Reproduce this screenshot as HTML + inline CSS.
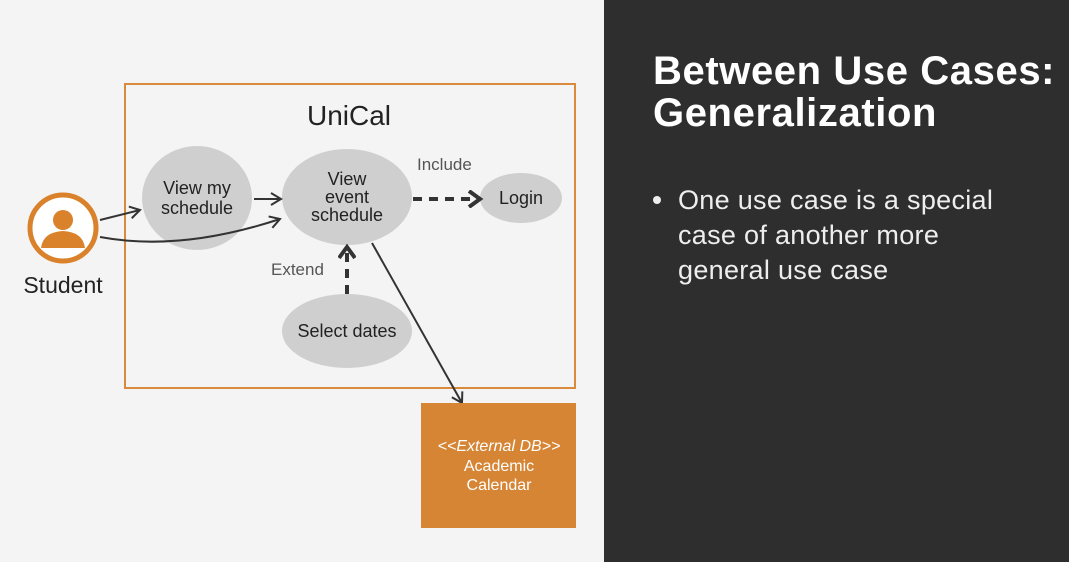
<!DOCTYPE html>
<html><head><style>
body{margin:0;width:1069px;height:562px;overflow:hidden;background:#f4f4f4;font-family:"Liberation Sans",sans-serif;position:relative}
.dark{position:absolute;left:604px;top:0;width:465px;height:562px;background:#2e2e2f}
.t{position:absolute;left:653px;top:50px;color:#fff;font-weight:bold;font-size:40px;letter-spacing:0.6px;line-height:42px;white-space:nowrap}
.b{position:absolute;left:678px;top:183px;color:#eee;font-size:27px;letter-spacing:0.3px;line-height:35px}
.dot{position:absolute;left:653px;top:196px;width:8px;height:8px;border-radius:50%;background:#eee}
</style></head><body>
<svg width="604" height="562" style="position:absolute;left:0;top:0" font-family="Liberation Sans, sans-serif">
<defs>
<marker id="a" markerWidth="14" markerHeight="14" refX="11" refY="7" orient="auto" markerUnits="userSpaceOnUse"><path d="M1,1 L11,7 L1,13" fill="none" stroke="#333" stroke-width="2"/></marker>
<marker id="b" markerWidth="18" markerHeight="18" refX="14" refY="9" orient="auto" markerUnits="userSpaceOnUse"><path d="M3,1 L14,9 L3,17" fill="none" stroke="#333" stroke-width="4"/></marker>
</defs>
<rect x="125" y="84" width="450" height="304" fill="none" stroke="#d98a3d" stroke-width="2"/>
<text x="349" y="125" font-size="28" text-anchor="middle" fill="#222">UniCal</text>
<circle cx="63" cy="228" r="33" fill="#fff" stroke="#d9822b" stroke-width="5"/>
<circle cx="63" cy="220" r="10" fill="#d9822b"/>
<path d="M41,248 Q43,232 63,231 Q83,232 85,248 Z" fill="#d9822b"/>
<text x="63" y="293" font-size="23" text-anchor="middle" fill="#222">Student</text>
<ellipse cx="197" cy="198" rx="55" ry="52" fill="#cfcfcf"/>
<ellipse cx="347" cy="197" rx="65" ry="48" fill="#cfcfcf"/>
<ellipse cx="521" cy="198" rx="41" ry="25" fill="#cfcfcf"/>
<ellipse cx="347" cy="331" rx="65" ry="37" fill="#cfcfcf"/>
<g font-size="18" fill="#222" text-anchor="middle">
<text x="197" y="194">View my</text><text x="197" y="214">schedule</text>
<text x="347" y="185">View</text><text x="347" y="203">event</text><text x="347" y="221">schedule</text>
<text x="521" y="204">Login</text>
<text x="347" y="337">Select dates</text>
</g>
<g font-size="17" fill="#555"><text x="417" y="170">Include</text><text x="271" y="275">Extend</text></g>
<line x1="100" y1="220" x2="140" y2="210" stroke="#333" stroke-width="2" marker-end="url(#a)"/>
<path d="M100,237 Q180,252 280,219" fill="none" stroke="#333" stroke-width="2" marker-end="url(#a)"/>
<line x1="254" y1="199" x2="281" y2="199" stroke="#333" stroke-width="2" marker-end="url(#a)"/>
<line x1="413" y1="199" x2="480" y2="199" stroke="#333" stroke-width="4" stroke-dasharray="9,7" marker-end="url(#b)"/>
<line x1="347" y1="294" x2="347" y2="247" stroke="#333" stroke-width="4" stroke-dasharray="9,7" marker-end="url(#b)"/>
<line x1="372" y1="243" x2="462" y2="403" stroke="#333" stroke-width="2" marker-end="url(#a)"/>
<rect x="421" y="403" width="155" height="125" fill="#d68535"/>
<g font-size="16" fill="#fff" text-anchor="middle">
<text x="499" y="451" font-style="italic">&lt;&lt;External DB&gt;&gt;</text>
<text x="499" y="471">Academic</text><text x="499" y="490">Calendar</text>
</g>
</svg>
<div class="dark"></div>
<div class="t">Between Use Cases:<br>Generalization</div>
<div class="dot"></div>
<div class="b">One use case is a special<br>case of another more<br>general use case</div>
</body></html>
